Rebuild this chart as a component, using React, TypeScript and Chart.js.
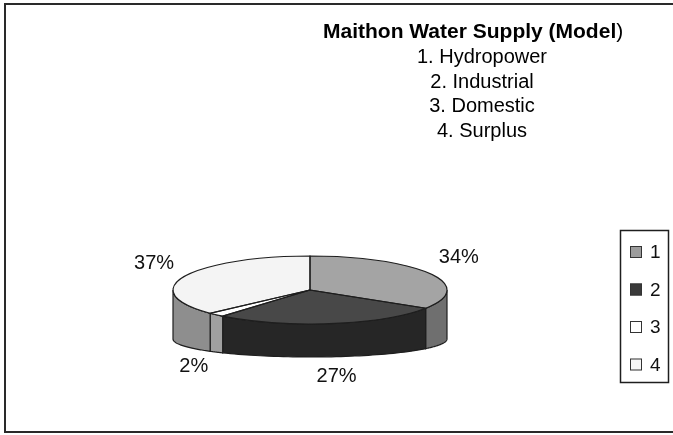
import React, { useEffect, useRef } from 'react';
import { Chart, registerables } from 'chart.js';

Chart.register(...registerables);

// ---- data ----
const categories = ['1', '2', '3', '4'];
const values = [34, 27, 2, 37];
const valueLabels = ['34%', '27%', '2%', '37%'];
const topColors = ['#a4a4a4', '#484848', '#ffffff', '#f4f4f4'];
const sideColors = ['#6f6f6f', '#262626', '#a0a0a0', '#8e8e8e'];
const legendColors = ['#9c9c9c', '#3a3a3a', '#ffffff', '#f7f7f7'];
const titleBold = 'Maithon Water Supply (Model';
const titleTail = ')';
const subtitleLines = ['1. Hydropower', '2. Industrial', '3. Domestic', '4. Surplus'];

const FONT = "'Liberation Sans', Arial, Helvetica, sans-serif";

// 3D look (styling)
const FLAT = 34 / 137; // vertical squash of the top face
const DEPTH = 49; // side depth at the extremes
const BOTTOM_RY = 18; // vertical radius of the bottom edge

function arcProps(arc: any) {
  return arc.getProps(['x', 'y', 'startAngle', 'endAngle', 'outerRadius'], true);
}

const pie3d = {
  id: 'pie3d',
  beforeDatasetsDraw(chart: any) {
    const ctx = chart.ctx as CanvasRenderingContext2D;
    const arcs = chart.getDatasetMeta(0).data;
    if (!arcs.length) return;
    // sides
    arcs.forEach((arc: any, i: number) => {
      const { x, y, startAngle, endAngle, outerRadius: R } = arcProps(arc);
      const ry = R * FLAT;
      const a0 = Math.max(startAngle, 0);
      const a1 = Math.min(endAngle, Math.PI);
      if (a1 <= a0) return;
      const N = 48;
      ctx.save();
      ctx.beginPath();
      for (let k = 0; k <= N; k++) {
        const a = a0 + ((a1 - a0) * k) / N;
        const px = x + R * Math.cos(a);
        const py = y + ry * Math.sin(a);
        if (k === 0) ctx.moveTo(px, py);
        else ctx.lineTo(px, py);
      }
      for (let k = N; k >= 0; k--) {
        const a = a0 + ((a1 - a0) * k) / N;
        ctx.lineTo(x + R * Math.cos(a), y + DEPTH + BOTTOM_RY * Math.sin(a));
      }
      ctx.closePath();
      ctx.fillStyle = sideColors[i];
      ctx.fill();
      ctx.strokeStyle = '#1e1e1e';
      ctx.lineWidth = 1.2;
      ctx.stroke();
      ctx.restore();
    });
    const { x, y } = arcProps(arcs[0]);
    ctx.save();
    ctx.translate(x, y);
    ctx.scale(1, FLAT);
    ctx.translate(-x, -y);
  },
  afterDatasetsDraw(chart: any) {
    const ctx = chart.ctx as CanvasRenderingContext2D;
    const arcs = chart.getDatasetMeta(0).data;
    if (!arcs.length) return;
    ctx.restore();
    // top face outlines
    arcs.forEach((arc: any) => {
      const { x, y, startAngle, endAngle, outerRadius: R } = arcProps(arc);
      const ry = R * FLAT;
      ctx.save();
      ctx.beginPath();
      ctx.moveTo(x, y);
      ctx.lineTo(x + R * Math.cos(startAngle), y + ry * Math.sin(startAngle));
      ctx.ellipse(x, y, R, ry, 0, startAngle, endAngle);
      ctx.closePath();
      ctx.strokeStyle = '#1e1e1e';
      ctx.lineWidth = 1.2;
      ctx.stroke();
      ctx.restore();
    });
    // value labels
    arcs.forEach((arc: any, i: number) => {
      const { x, y, startAngle, endAngle, outerRadius: R } = arcProps(arc);
      const mid = (startAngle + endAngle) / 2;
      const c = Math.cos(mid);
      const s = Math.sin(mid);
      const lx = x + R * 1.24 * c;
      const ly = s < 0 ? y + R * FLAT * 2.0 * s : y + DEPTH + 38 * s;
      ctx.save();
      ctx.font = `20px ${FONT}`;
      ctx.fillStyle = '#111';
      ctx.textAlign = 'center';
      ctx.textBaseline = 'middle';
      ctx.fillText(valueLabels[i], lx, ly);
      ctx.restore();
    });
  },
  afterDraw(chart: any) {
    const ctx = chart.ctx as CanvasRenderingContext2D;
    ctx.save();
    // title
    ctx.fillStyle = '#000';
    ctx.textBaseline = 'alphabetic';
    ctx.textAlign = 'left';
    ctx.font = `bold 21px ${FONT}`;
    ctx.fillText(titleBold, 323, 38);
    const w = ctx.measureText(titleBold).width;
    ctx.font = `21px ${FONT}`;
    ctx.fillText(titleTail, 323 + w, 38);
    // subtitle lines
    ctx.font = `20px ${FONT}`;
    ctx.textAlign = 'center';
    subtitleLines.forEach((t, i) => {
      ctx.fillText(t, 482, 63 + i * 24.7);
    });
    // legend
    ctx.strokeStyle = '#1e1e1e';
    ctx.lineWidth = 1.5;
    ctx.strokeRect(620.5, 230.5, 48, 152);
    categories.forEach((lab, i) => {
      const cy = 252 + i * 37.5;
      ctx.fillStyle = legendColors[i];
      ctx.fillRect(630, cy - 6, 12, 12);
      ctx.strokeStyle = '#333';
      ctx.lineWidth = 1;
      ctx.strokeRect(630.5, cy - 5.5, 11, 11);
      ctx.fillStyle = '#111';
      ctx.font = `19px ${FONT}`;
      ctx.textAlign = 'left';
      ctx.textBaseline = 'middle';
      ctx.fillText(lab, 650, cy + 1);
    });
    ctx.restore();
  },
};

export default function App() {
  const ref = useRef<HTMLCanvasElement>(null);
  useEffect(() => {
    if (!ref.current) return;
    const chart = new Chart(ref.current, {
      type: 'pie',
      data: {
        labels: categories,
        datasets: [
          {
            data: values,
            backgroundColor: topColors,
            borderWidth: 0,
            hoverOffset: 0,
            offset: 0,
            clip: false,
          } as any,
        ],
      },
      options: {
        responsive: false,
        animation: false,
        events: [],
        layout: { padding: { left: 173, right: 226, top: 153, bottom: 8 }, autoPadding: false } as any,
        plugins: {
          legend: { display: false },
          tooltip: { enabled: false },
          title: { display: false },
        },
      },
      plugins: [pie3d as any],
    });
    return () => chart.destroy();
  }, []);
  return (
    <div
      style={{
        position: 'fixed',
        left: 0,
        top: 0,
        width: 673,
        height: 435,
        overflow: 'hidden',
        background: '#fff',
      }}
    >
      <canvas ref={ref} width={673} height={435} style={{ position: 'absolute', left: 0, top: 0 }} />
      <div
        style={{
          position: 'absolute',
          left: 4,
          top: 3,
          width: 720,
          height: 426,
          border: '2px solid #2a2a2a',
          pointerEvents: 'none',
        }}
      />
    </div>
  );
}
